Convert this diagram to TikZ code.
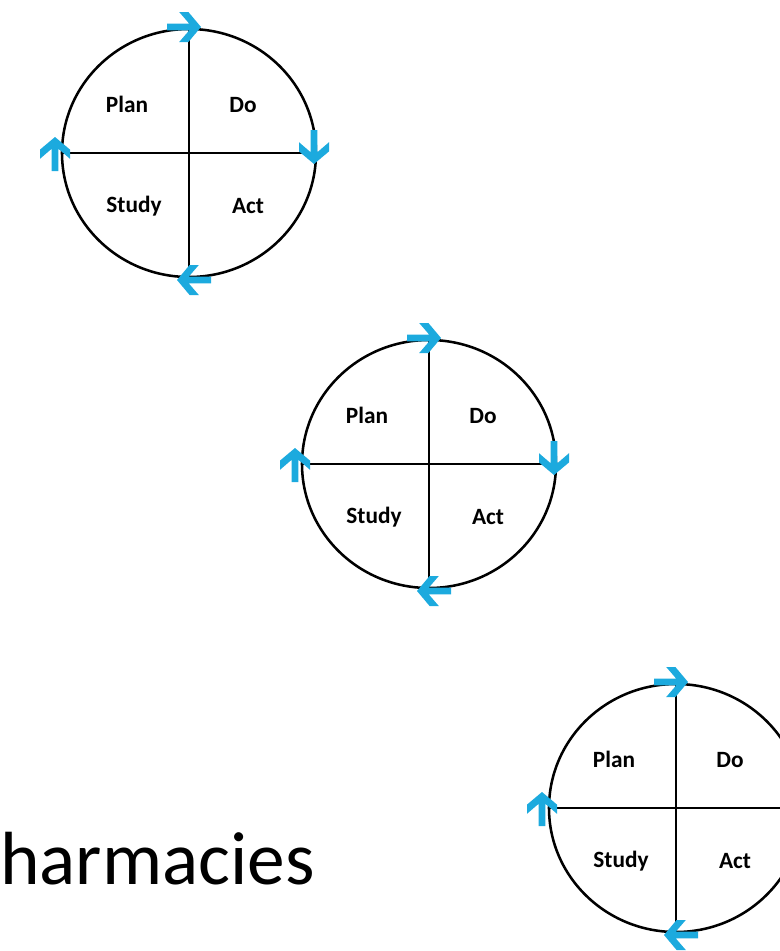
\documentclass[tikz,border=0pt]{standalone}
\usepackage{fontspec}
\setmainfont{Carlito}
\definecolor{pdsablue}{RGB}{28,170,222}

\tikzset{
  cycle/.style={
    draw=black, ellipse, line width=1.9pt,
    minimum width=190.5pt, minimum height=186pt,
    inner sep=0pt, outer sep=0pt
  },
  divider/.style={
    draw=black, line width=1.7pt
  },
  phase/.style={
    anchor=base, inner sep=0pt,
    font=\fontsize{17.5}{19}\selectfont\bfseries
  },
  pdsaarrow/.pic={
    \fill[pdsablue] (0,0) -- (-12.6,15) -- (-21.8,15) -- (-11.8,3.4)
      -- (-34,3.4) -- (-34,-3.4) -- (-11.8,-3.4) -- (-21.8,-15)
      -- (-12.6,-15) -- cycle;
  },
}
\usetikzlibrary{shapes.geometric}

\begin{document}
\begin{tikzpicture}[x=0.75pt, y=0.75pt]

\useasboundingbox (0,0) rectangle (780,-951);
\clip (0,0) rectangle (780,-951);

%% Cycle 1 (top left)
\begin{scope}[shift={(189,-153)}]
\node[cycle] (c1) at (0,0) {};
\draw[divider] (c1.north) -- (c1.south);
\draw[divider] (c1.west) -- (c1.east);
\node[phase] (c1plan) at (-62,41) {Plan};
\node[phase] (c1do) at (54,41) {Do};
\node[phase] (c1study) at (-55,-59) {Study};
\node[phase] (c1act) at (59,-60) {Act};
\pic at (12,126) {pdsaarrow};
\pic[rotate=-90] at (125,-11) {pdsaarrow};
\pic[rotate=180] at (-12,-127) {pdsaarrow};
\pic[rotate=90] at (-134,16) {pdsaarrow};
\end{scope}

%% Cycle 2 (middle)
\begin{scope}[shift={(429,-464)}]
\node[cycle] (c2) at (0,0) {};
\draw[divider] (c2.north) -- (c2.south);
\draw[divider] (c2.west) -- (c2.east);
\node[phase] (c2plan) at (-62,41) {Plan};
\node[phase] (c2do) at (54,41) {Do};
\node[phase] (c2study) at (-55,-59) {Study};
\node[phase] (c2act) at (59,-60) {Act};
\pic at (12,126) {pdsaarrow};
\pic[rotate=-90] at (125,-11) {pdsaarrow};
\pic[rotate=180] at (-12,-127) {pdsaarrow};
\pic[rotate=90] at (-134,16) {pdsaarrow};
\end{scope}

%% Cycle 3 (bottom right, runs off the edge)
\begin{scope}[shift={(676,-808)}]
\node[cycle] (c3) at (0,0) {};
\draw[divider] (c3.north) -- (c3.south);
\draw[divider] (c3.west) -- (c3.east);
\node[phase] (c3plan) at (-62,41) {Plan};
\node[phase] (c3do) at (54,41) {Do};
\node[phase] (c3study) at (-55,-59) {Study};
\node[phase] (c3act) at (59,-60) {Act};
\pic at (12,126) {pdsaarrow};
\pic[rotate=-90] at (125,-11) {pdsaarrow};
\pic[rotate=180] at (-12,-127) {pdsaarrow};
\pic[rotate=90] at (-134,16) {pdsaarrow};
\end{scope}

%% Cut-off slide title
\node[anchor=base west, inner sep=0pt, font=\fontsize{56.5}{61}\selectfont]
  (title) at (0,-884) {harmacies};

\end{tikzpicture}
\end{document}
